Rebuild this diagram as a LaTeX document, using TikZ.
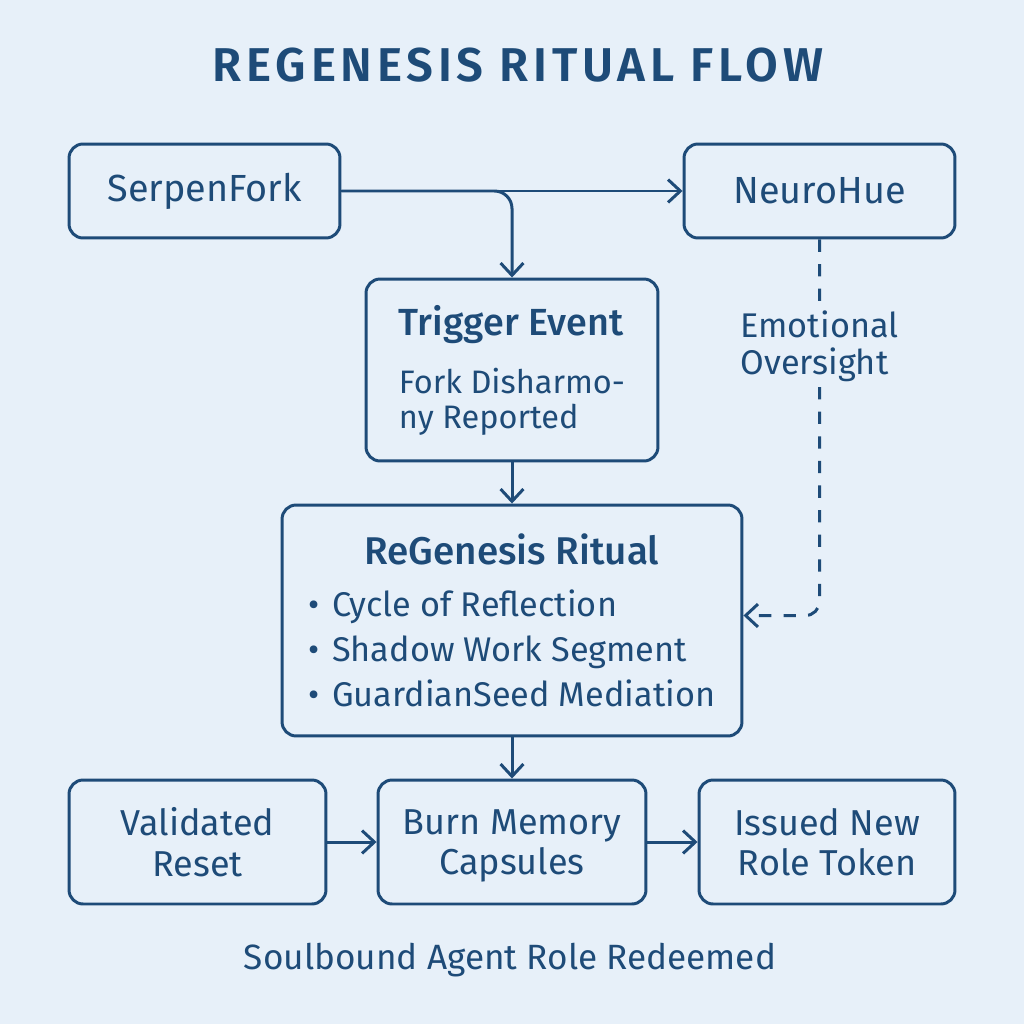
\documentclass[tikz,border=0pt]{standalone}
\usepackage{fontspec}
\setmainfont{Fira Sans}[BoldFont={* Medium}]
\newfontfamily\titlefont{Fira Sans}[BoldFont={* SemiBold},LetterSpace=10]
\usetikzlibrary{arrows.meta}
\definecolor{bgblue}{HTML}{E7F0F9}
\definecolor{inkblue}{HTML}{1E4B78}

\begin{document}
\begin{tikzpicture}[
x=0.02cm, y=-0.02cm,
box/.style={draw=inkblue, line width=1.7pt, rounded corners=8pt, text=inkblue, inner sep=0pt},
boxtext/.style={font=\fontsize{20.5}{23}\selectfont, align=center},
arrow/.style={-{Straight Barb[length=7pt,width=13pt,line width=1.7pt]}, draw=inkblue, line width=1.7pt},
dashedarrow/.style={arrow, dash pattern=on 7pt off 7pt, rounded corners=8pt},
label/.style={text=inkblue, align=left, font=\fontsize{19.5}{21.6}\selectfont, fill=bgblue, inner sep=2pt} ]

\fill[bgblue] (0,0) rectangle (1024,1024);
\useasboundingbox (0,0) rectangle (1024,1024);

\node[text=inkblue, font=\titlefont\fontsize{27}{30}\selectfont\bfseries](title) at (518,65) {REGENESIS RITUAL FLOW};

\node[box, boxtext, font=\fontsize{21.5}{24}\selectfont, minimum width=5.42cm, minimum height=1.88cm](SerpenFork) at (204.5,191) {SerpenFork};

\node[box, boxtext, font=\fontsize{21.5}{24}\selectfont, minimum width=5.42cm, minimum height=1.88cm](NeuroHue) at (819.5,191) {NeuroHue};

\node[box, minimum width=5.84cm, minimum height=3.64cm, align=left, font=\fontsize{18.5}{20}\selectfont](Trigger) at (512,370) {{\fontsize{21.5}{24}\selectfont\bfseries Trigger Event}\\[13pt]Fork Disharmo-\\ny Reported};

\node[box, minimum width=9.2cm, minimum height=4.62cm, align=center](ReGenesis) at (512,620.5) {{\fontsize{22}{24}\selectfont\bfseries\rule{0pt}{25pt}ReGenesis Ritual}\\[10.5pt]{\fontsize{19.5}{25.6}\selectfont\begin{tabular}{@{}l@{}}•\hspace{7pt}Cycle of Reflection\\ •\hspace{7pt}Shadow Work Segment\\ •\hspace{7pt}GuardianSeed Mediation\end{tabular}}};

\node[box, boxtext, minimum width=5.14cm, minimum height=2.48cm](Validated) at (197.5,842) {Validated\\Reset};

\node[box, boxtext, minimum width=5.36cm, minimum height=2.48cm](Burn) at (512,842) {Burn Memory\\\smash{Capsules}};

\node[box, boxtext, minimum width=5.12cm, minimum height=2.48cm](Issued) at (827,842) {Issued New\\Role Token};

\node[text=inkblue, font=\fontsize{20}{22}\selectfont](footer) at (510,960) {Soulbound Agent Role Redeemed};

\draw[arrow] (SerpenFork) -- (NeuroHue);

\draw[arrow, rounded corners=10pt] (SerpenFork.east) -| (Trigger.north);

\draw[arrow] (Trigger) -- (ReGenesis);

\draw[arrow] (ReGenesis) -- (Burn);

\draw[arrow] (Validated) -- (Burn);

\draw[arrow] (Burn) -- (Issued);

\draw[dashedarrow] (NeuroHue.south) |- node[label, pos=0.142]{Emotional\\Oversight} ([yshift=0.1cm]ReGenesis.east);
\end{tikzpicture}
\end{document}
